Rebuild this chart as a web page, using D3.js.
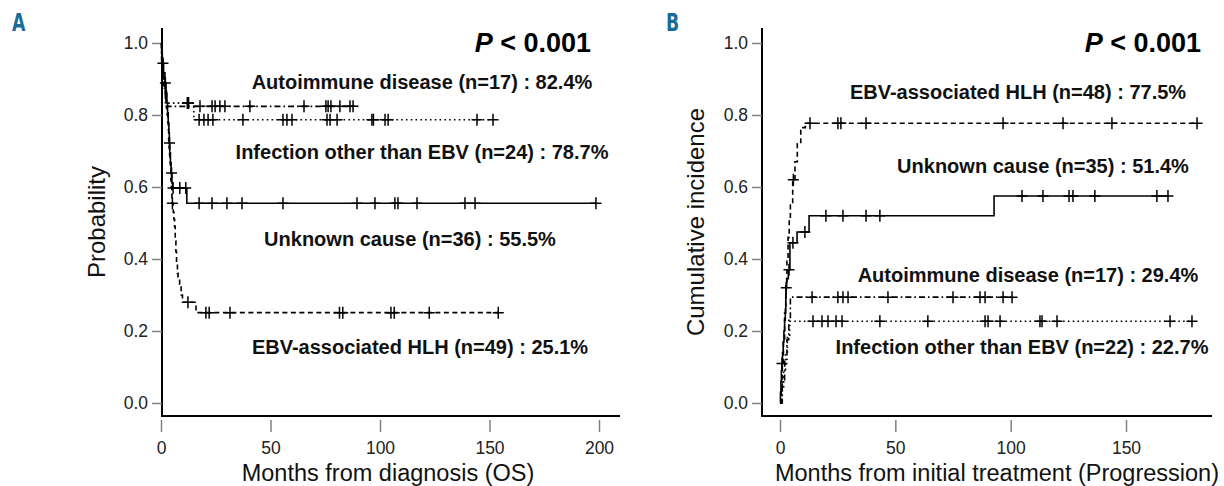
<!DOCTYPE html>
<html><head><meta charset="utf-8">
<script src="https://cdn.jsdelivr.net/npm/d3@7"></script>
<style>body{margin:0;background:#fff} svg{display:block}</style>
</head><body><svg id="c" width="1224" height="486"></svg>
<script>
// ---------- DATA ----------
const yTicks = [0, 0.2, 0.4, 0.6, 0.8, 1.0];
const xTicksA = [0, 50, 100, 150, 200];
const xTicksB = [0, 50, 100, 150];

// Panel A: overall survival (step points: time, survival) + censor times
const osAutoTimes = [0, 0.3, 1.0, 2.0];
const osAutoSurv  = [1, 0.941, 0.882, 0.824];
const osAutoCens  = [17.8, 23.3, 24.7, 26.9, 29.2, 40.6, 65.3, 75.3, 76.3, 77.6, 81.7, 86.3, 87.7];

const osInfTimes = [0, 0.3, 0.8, 1.5, 2.5, 15];
const osInfSurv  = [1, 0.958, 0.917, 0.875, 0.833, 0.787];
const osInfCens  = [12.0, 12.6, 17.4, 19.6, 21.5, 23.7, 37.4, 55.7, 57.5, 59.8, 75.8, 77.2, 80.4, 96.3, 97.0, 102.3, 103.7, 144.3, 151.6];

const osUnkTimes = [0, 0.3, 0.6, 1.2, 1.8, 2.3, 2.7, 3.0, 3.3, 3.6, 3.8, 4.0, 4.3, 4.6, 5.0, 5.3, 11.8];
const osUnkSurv  = [1, 0.972, 0.944, 0.917, 0.889, 0.861, 0.833, 0.806, 0.778, 0.75, 0.722, 0.694, 0.667, 0.639, 0.611, 0.597, 0.555];
const osUnkCens  = [0.9, 2.0, 3.9, 4.8, 5.5, 8.6, 11.3, 17.4, 23.3, 30.1, 37.0, 55.7, 89.5, 97.7, 106.8, 108.2, 116.9, 138.8, 143.4, 198.6];

const osEbvTimes = [0, 0.2, 0.5, 0.8, 1.0, 1.3, 1.6, 1.9, 2.2, 2.5, 2.8, 3.1, 3.3, 3.5, 3.7, 3.9, 4.1, 4.3, 4.5, 4.7, 4.9, 5.0, 5.6, 5.9, 6.2, 6.5, 6.8, 7.1, 7.5, 7.8, 8.5, 9.2, 9.8, 16];
const osEbvSurv  = [1, 0.98, 0.96, 0.94, 0.92, 0.90, 0.88, 0.86, 0.84, 0.82, 0.80, 0.78, 0.76, 0.73, 0.71, 0.69, 0.67, 0.65, 0.62, 0.60, 0.58, 0.555, 0.53, 0.51, 0.49, 0.45, 0.42, 0.39, 0.36, 0.35, 0.33, 0.30, 0.28, 0.251];
const osEbvCens  = [5.2, 12.3, 20.5, 22.0, 31.5, 81.5, 83.0, 105.0, 106.5, 122.5, 154.0];

// Panel B: cumulative incidence of progression
const ciEbvTimes = [0, 0.5, 1, 1.5, 2, 2.5, 3, 3.5, 4, 4.5, 5.5, 6.5, 7.5, 9, 11];
const ciEbvVals  = [0, 0.04, 0.10, 0.17, 0.25, 0.33, 0.40, 0.46, 0.51, 0.55, 0.62, 0.67, 0.72, 0.765, 0.777];
const ciEbvCens  = [5.8, 13.0, 25.1, 26.4, 37.3, 96.7, 122.7, 143.9, 180.8];

const ciUnkTimes = [0, 0.2, 0.4, 0.6, 0.8, 1.1, 1.4, 1.7, 2.0, 2.3, 2.5, 2.6, 2.9, 3.6, 4.3, 7.4, 12.6, 92.8];
const ciUnkVals  = [0, 0.03, 0.06, 0.09, 0.11, 0.14, 0.17, 0.20, 0.23, 0.26, 0.29, 0.32, 0.345, 0.37, 0.445, 0.475, 0.52, 0.575];
const ciUnkCens  = [0.85, 2.7, 3.9, 5.6, 10.8, 19.9, 27.3, 37.3, 43.3, 104.9, 114.0, 125.3, 127.0, 136.5, 163.4, 168.2];

const ciAutoTimes = [0, 1.0, 2.0, 3.0, 3.8, 4.5];
const ciAutoVals  = [0, 0.059, 0.118, 0.176, 0.235, 0.294];
const ciAutoCens  = [13.9, 25.1, 27.3, 29.5, 46.8, 75.0, 86.7, 88.9, 96.7, 100.6];

const ciInfTimes = [0, 0.8, 1.6, 2.4, 3.2, 4.2];
const ciInfVals  = [0, 0.045, 0.09, 0.136, 0.182, 0.227];
const ciInfCens  = [14.3, 18.2, 20.8, 24.3, 26.9, 43.3, 64.1, 88.9, 90.2, 95.4, 112.7, 113.6, 120.1, 169.1, 178.6];

const labelsA = ["Autoimmune disease (n=17) : 82.4%", "Infection other than EBV (n=24) : 78.7%", "Unknown cause (n=36) : 55.5%", "EBV-associated HLH (n=49) : 25.1%"];
const labelsB = ["EBV-associated HLH (n=48) : 77.5%", "Unknown cause (n=35) : 51.4%", "Autoimmune disease (n=17) : 29.4%", "Infection other than EBV (n=22) : 22.7%"];

// ---------- STYLES ----------
const DASH = {ebv: "5,3.5", unk: null, inf: "1.6,3.2", auto: "6,3,1.6,3"};
const svg = d3.select("#c");
const FONT = "'Liberation Sans', Arial, sans-serif";

function stepVal(times, vals, t) {
  let v = vals[0];
  for (let i = 0; i < times.length; i++) if (times[i] <= t) v = vals[i];
  return v;
}

function drawPanel(cfg) {
  const g = svg.append("g");
  const x = cfg.x, y = cfg.y;
  g.append("line").attr("x1", cfg.axisX).attr("x2", cfg.axisX).attr("y1", 28).attr("y2", 417)
    .attr("stroke", "#000").attr("stroke-width", 2);
  g.append("line").attr("x1", cfg.axisX - 1).attr("x2", cfg.xEnd).attr("y1", 416).attr("y2", 416)
    .attr("stroke", "#000").attr("stroke-width", 2);
  const ya = g.append("g").attr("transform", `translate(${cfg.axisX},0)`)
    .call(d3.axisLeft(y).tickValues(yTicks).tickFormat(d3.format(".1f")).tickSize(10).tickPadding(4));
  ya.select(".domain").remove();
  ya.selectAll(".tick line").attr("stroke", "#808080").attr("stroke-width", 1.5);
  ya.selectAll(".tick text").attr("font-family", FONT).attr("font-size", 17.5).attr("fill", "#222");
  const xa = g.append("g").attr("transform", `translate(0,420)`)
    .call(d3.axisBottom(x).tickValues(cfg.xTicks).tickSize(12).tickPadding(10));
  xa.select(".domain").remove();
  xa.selectAll(".tick line").attr("stroke", "#808080").attr("stroke-width", 1.5);
  xa.selectAll(".tick text").attr("font-family", FONT).attr("font-size", 17.5).attr("fill", "#222");
  g.append("text").attr("x", cfg.xTitleX).attr("y", 481).attr("text-anchor", "middle")
    .attr("font-family", FONT).attr("font-size", 23.5).attr("fill", "#111").text(cfg.xTitle);
  g.append("text").attr("transform", `translate(${cfg.yTitleX},222) rotate(-90)`).attr("text-anchor", "middle")
    .attr("font-family", FONT).attr("font-size", 24).attr("fill", "#111").text(cfg.yTitle);
  g.append("text").attr("x", cfg.letterX).attr("y", 31).attr("font-family", "'DejaVu Sans Condensed', 'DejaVu Sans', sans-serif")
    .attr("font-weight", "bold").attr("font-size", 24).attr("fill", "#1b6a99")
    .attr("transform", `translate(${cfg.letterX},31) scale(0.8,1) translate(${-cfg.letterX},-31)`).text(cfg.letter);
  const pt = g.append("text").attr("x", cfg.pX).attr("y", 52).attr("text-anchor", "end")
    .attr("font-family", FONT).attr("font-size", 27).attr("font-weight", "bold").attr("fill", "#000");
  pt.append("tspan").attr("font-style", "italic").text("P");
  pt.append("tspan").text(" < 0.001");
  const line = d3.line().x(d => x(d[0])).y(d => y(d[1])).curve(d3.curveStepAfter);
  cfg.series.forEach(s => {
    const end = d3.max(s.cens);
    const pts = s.times.map((t, i) => [t, s.vals[i]]);
    pts.push([end, s.vals[s.vals.length - 1]]);
    const p = g.append("path").attr("d", line(pts)).attr("fill", "none")
      .attr("stroke", "#000").attr("stroke-width", 1.6);
    if (s.dash) p.attr("stroke-dasharray", s.dash);
    g.append("g").selectAll("path").data(s.cens).join("path")
      .attr("d", t => {
        const cx = x(t), cy = y(stepVal(s.times, s.vals, t));
        return `M${cx - 5.5},${cy}H${cx + 5.5}M${cx},${cy - 6}V${cy + 6}`;
      })
      .attr("stroke", "#000").attr("stroke-width", 1.5).attr("fill", "none");
  });
  cfg.labels.forEach((txt, i) => {
    g.append("text").attr("x", cfg.labelPos[i][0]).attr("y", cfg.labelPos[i][1]).attr("text-anchor", "middle")
      .attr("font-family", FONT).attr("font-size", 20).attr("font-weight", "bold").attr("fill", "#111").text(txt);
  });
}

const yScale = d3.scaleLinear().domain([0, 1]).range([403, 43]);

drawPanel({
  x: d3.scaleLinear().domain([0, 200]).range([161, 599]),
  y: yScale, axisX: 162, xEnd: 620, xTicks: xTicksA,
  xTitle: "Months from diagnosis (OS)", xTitleX: 388,
  yTitle: "Probability", yTitleX: 105,
  letter: "A", letterX: 12, pX: 591,
  series: [
    {times: osAutoTimes, vals: osAutoSurv, cens: osAutoCens, dash: DASH.auto},
    {times: osInfTimes, vals: osInfSurv, cens: osInfCens, dash: DASH.inf},
    {times: osUnkTimes, vals: osUnkSurv, cens: osUnkCens, dash: DASH.unk},
    {times: osEbvTimes, vals: osEbvSurv, cens: osEbvCens, dash: DASH.ebv}
  ],
  labels: labelsA,
  labelPos: [[422, 89], [422, 159], [410, 246], [420, 354]]
});

drawPanel({
  x: d3.scaleLinear().domain([0, 150]).range([780, 1126]),
  y: yScale, axisX: 762, xEnd: 1212, xTicks: xTicksB,
  xTitle: "Months from initial treatment (Progression)", xTitleX: 997,
  yTitle: "Cumulative incidence", yTitleX: 704,
  letter: "B", letterX: 666, pX: 1201,
  series: [
    {times: ciEbvTimes, vals: ciEbvVals, cens: ciEbvCens, dash: DASH.ebv},
    {times: ciUnkTimes, vals: ciUnkVals, cens: ciUnkCens, dash: DASH.unk},
    {times: ciAutoTimes, vals: ciAutoVals, cens: ciAutoCens, dash: DASH.auto},
    {times: ciInfTimes, vals: ciInfVals, cens: ciInfCens, dash: DASH.inf}
  ],
  labels: labelsB,
  labelPos: [[1018, 99], [1043, 173], [1028, 282], [1022, 354]]
});
</script></body></html>
